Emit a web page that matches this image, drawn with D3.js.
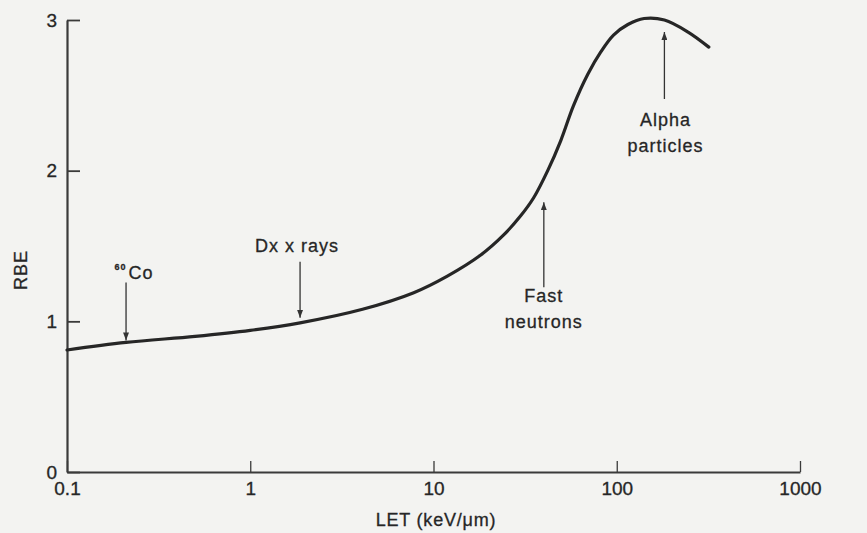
<!DOCTYPE html>
<html>
<head>
<meta charset="utf-8">
<script src="https://cdn.jsdelivr.net/npm/d3@7"></script>
<style>
body { margin: 0; background: #f3f3f1; }
text { font-family: "Liberation Sans", Arial, sans-serif; fill: #262626; stroke: #262626; stroke-width: 0.3px; }
</style>
</head>
<body>
<svg id="chart" width="867" height="533"></svg>
<script>
// LET (keV/um) vs RBE
var letValues = [0.1, 0.21, 0.5, 1, 1.87, 4.1, 7.8, 11.9, 18.1, 24, 29.9, 35.2, 42, 49.5, 58, 69.5, 82, 96, 115, 141, 182, 245, 318];
var rbeValues = [0.81, 0.86, 0.90, 0.94, 0.99, 1.08, 1.19, 1.30, 1.44, 1.57, 1.70, 1.82, 2.00, 2.20, 2.43, 2.64, 2.79, 2.90, 2.97, 3.01, 3.00, 2.92, 2.82];

var xTicks = [0.1, 1, 10, 100, 1000];
var yTicks = [0, 1, 2, 3];

// annotations: where each arrow points on the LET axis
var annotNames = [["Co"], ["Dx x rays"], ["Fast", "neutrons"], ["Alpha", "particles"]];
var annotLet = [0.21, 1.87, 40, 182];

// layout for the annotations (arrow direction, arrow length, gap to curve, text offsets)
var annotLayout = [
	{dir: 'down', len: 58, gap: 2, tx: 8, ty: -3},
	{dir: 'down', len: 56, gap: 5, tx: -3, ty: -10},
	{dir: 'up', len: 85, gap: 24, tx: 0, ty: 15},
	{dir: 'up', len: 67, gap: 12, tx: 1, ty: 27}
];

var svg = d3.select('#chart');
var x = d3.scaleLog().domain([0.1, 1000]).range([67, 800]);
var y = d3.scaleLinear().domain([0, 3]).range([472, 20]);

var data = letValues.map(function(d, i) { return {let: d, rbe: rbeValues[i]}; });

// y axis
var yAxis = svg.append('g').attr('transform', 'translate(' + x(0.1) + ',0)')
	.call(d3.axisLeft(y).tickValues(yTicks).tickSize(-13).tickSizeOuter(0).tickPadding(10).tickFormat(d3.format('d')));
// x axis
var xAxis = svg.append('g').attr('transform', 'translate(0,' + y(0) + ')')
	.call(d3.axisBottom(x).tickValues(xTicks).tickSize(-11).tickSizeOuter(0).tickPadding(10)
		.tickFormat(function(d) { return String(d); }));

[yAxis, xAxis].forEach(function(ax) {
	ax.select('.domain').attr('stroke', '#3a3a3a').attr('stroke-width', 2.2);
	ax.selectAll('.tick line').attr('stroke', '#3a3a3a').attr('stroke-width', 1.8);
	ax.selectAll('.tick text').style('font-size', '19px').attr('fill', '#262626')
		.style('font-family', '"Liberation Sans", Arial, sans-serif');
});
xAxis.selectAll('.tick line').attr('stroke-width', 1.3);

// axis titles
svg.append('text').attr('transform', 'translate(27,270) rotate(-90)')
	.attr('text-anchor', 'middle').style('font-size', '18px').style('letter-spacing', '1px').text('RBE');
svg.append('text').attr('x', 436).attr('y', 526)
	.attr('text-anchor', 'middle').style('font-size', '18px').style('letter-spacing', '0.8px').text('LET (keV/\u03bcm)');

// curve
var line = d3.line()
	.x(function(d) { return x(d.let); })
	.y(function(d) { return y(d.rbe); })
	.curve(d3.curveCatmullRom.alpha(0.5));

svg.append('path').datum(data)
	.attr('d', line)
	.attr('fill', 'none')
	.attr('stroke', '#262626')
	.attr('stroke-width', 3.2)
	.attr('stroke-linecap', 'round');

// arrow head
svg.append('defs').append('marker')
	.attr('id', 'head').attr('viewBox', '0 0 8 6')
	.attr('refX', 8).attr('refY', 3)
	.attr('markerWidth', 8).attr('markerHeight', 6)
	.attr('markerUnits', 'userSpaceOnUse')
	.attr('orient', 'auto')
	.append('path').attr('d', 'M0,0L8,3L0,6z').attr('fill', '#333');

// rbe on the curve at a given LET (linear in log space between read points)
function rbeAt(v) {
	var lv = Math.log10(v);
	for (var i = 1; i < data.length; i++) {
		var a = Math.log10(data[i - 1].let), b = Math.log10(data[i].let);
		if (lv <= b) {
			var t = (lv - a) / (b - a);
			return data[i - 1].rbe + t * (data[i].rbe - data[i - 1].rbe);
		}
	}
	return data[data.length - 1].rbe;
}

annotNames.forEach(function(lines, i) {
	var lay = annotLayout[i];
	var ax = x(annotLet[i]);
	var cy = y(rbeAt(annotLet[i]));
	var tipY, tailY;
	if (lay.dir === 'down') {
		tipY = cy - lay.gap;
		tailY = tipY - lay.len;
	} else {
		tipY = cy + lay.gap;
		tailY = tipY + lay.len;
	}
	svg.append('line')
		.attr('x1', ax).attr('y1', tailY).attr('x2', ax).attr('y2', tipY)
		.attr('stroke', '#333').attr('stroke-width', 1.3)
		.attr('marker-end', 'url(#head)');

	var t = svg.append('text')
		.attr('x', ax + lay.tx).attr('y', tailY + lay.ty)
		.attr('text-anchor', 'middle')
		.style('font-size', '18px').style('letter-spacing', '1px');
	if (i === 0) {
		t.append('tspan').style('font-size', '9px').style('font-weight', 'bold').attr('dy', '-9').text('60');
		t.append('tspan').attr('dx', '2').attr('dy', '9').text(lines[0]);
	} else {
		lines.forEach(function(s, j) {
			t.append('tspan').attr('x', ax + lay.tx).attr('dy', j === 0 ? 0 : 26).text(s);
		});
	}
});
</script>
</body>
</html>
